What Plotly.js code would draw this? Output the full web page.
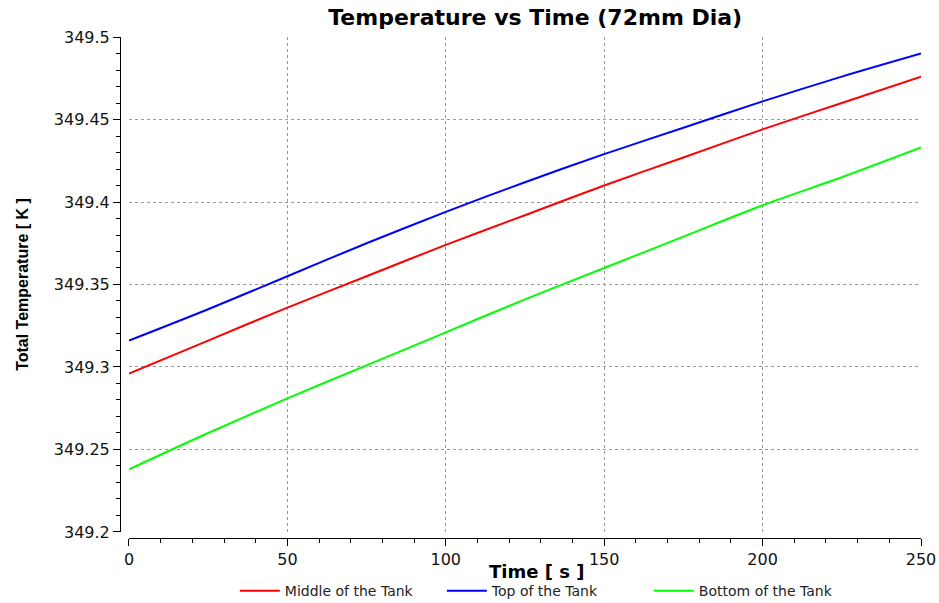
<!DOCTYPE html>
<html>
<head>
<meta charset="utf-8">
<script src="https://cdn.plot.ly/plotly-3.0.1.min.js"></script>
<style>html,body{margin:0;padding:0;background:#fff;}#chart{width:939px;height:603px;}</style>
</head>
<body>
<div id="chart"></div>
<script>
const time = [0, 25, 50, 75, 100, 125, 150, 175, 200, 225, 250];
const middleTank = [349.296, 349.316, 349.336, 349.355, 349.374, 349.392, 349.410, 349.427, 349.444, 349.460, 349.476];
const topTank    = [349.316, 349.335, 349.355, 349.375, 349.394, 349.412, 349.429, 349.445, 349.461, 349.476, 349.490];
const bottomTank = [349.238, 349.260, 349.281, 349.301, 349.321, 349.341, 349.360, 349.379, 349.398, 349.415, 349.433];
const seriesNames = ["Middle of the Tank", "Top of the Tank", "Bottom of the Tank"];
const seriesColors = ["#ff0000", "#0000ff", "#00ff00"];
const xTicks = [0, 50, 100, 150, 200, 250];
const yTicks = [349.2, 349.25, 349.3, 349.35, 349.4, 349.45, 349.5];
const yTickText = ["349.2", "349.25", "349.3", "349.35", "349.4", "349.45", "349.5"];

const font = "DejaVu Sans, Verdana, sans-serif";
const ys = [middleTank, topTank, bottomTank];
const traces = ys.map((y, i) => ({
  x: time, y: y, type: "scatter", mode: "lines", name: seriesNames[i],
  line: {color: seriesColors[i], width: 2, shape: "spline", smoothing: 0.8}
}));

const layout = {
  width: 939, height: 603,
  margin: {l: 120, r: 18, t: 37, b: 65, autoexpand: false},
  paper_bgcolor: "#fff", plot_bgcolor: "#fff",
  title: {text: "<b>Temperature vs Time (72mm Dia)</b>", font: {family: font, size: 22, color: "#000"},
          x: 0.57, xanchor: "center", y: 0.972, yanchor: "middle"},
  xaxis: {
    domain: [0.0112, 1], range: [0, 250], anchor: "free", position: 0,
    tickvals: xTicks,
    showline: true, linecolor: "#000", linewidth: 1,
    ticks: "outside", ticklen: 7, tickcolor: "#000",
    minor: {dtick: 10, ticks: "outside", ticklen: 4, tickcolor: "#000", showgrid: false},
    showgrid: true, gridcolor: "#999", griddash: "dot", gridwidth: 1,
    zeroline: false,
    tickfont: {family: font, size: 16, color: "#111"}
  },
  yaxis: {
    domain: [0.012, 1], range: [349.2, 349.5], anchor: "free", position: 0,
    tickvals: yTicks, ticktext: yTickText,
    showline: true, linecolor: "#000", linewidth: 1,
    ticks: "outside", ticklen: 7, tickcolor: "#000",
    minor: {dtick: 0.01, tick0: 349.2, ticks: "outside", ticklen: 4, tickcolor: "#000", showgrid: false},
    showgrid: true, gridcolor: "#999", griddash: "dot", gridwidth: 1,
    zeroline: false,
    tickfont: {family: font, size: 16, color: "#111"},
    title: {text: "<b>Total Temperature [ K ]</b>", font: {family: "Liberation Sans Narrow, Liberation Sans, Arial, sans-serif", size: 16, color: "#000"}, standoff: 20}
  },
  annotations: [{
    text: "<b>Time [ s ]</b>", xref: "paper", yref: "paper", x: 0.52, y: -0.066,
    xanchor: "center", yanchor: "middle", showarrow: false,
    font: {family: font, size: 18, color: "#000"}
  }],
  showlegend: true,
  legend: {orientation: "h", x: 0.531, xanchor: "center", y: -0.074, yanchor: "top",
           font: {family: font, size: 14, color: "#222"}, itemwidth: 40, tracegroupgap: 0,
           entrywidth: 152, entrywidthmode: "pixels"},
};
Plotly.newPlot("chart", traces, layout, {displayModeBar: false, staticPlot: true});
</script>
</body>
</html>
